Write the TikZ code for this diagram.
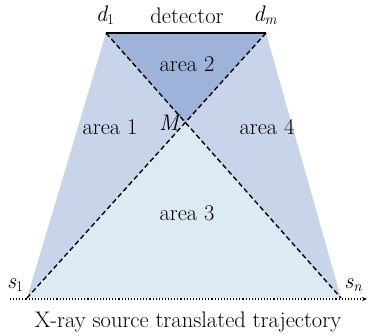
\documentclass[tikz,border=0pt]{standalone}
\usepackage{fontspec}
\usetikzlibrary{arrows.meta,calc,intersections}
\definecolor{outerc}{HTML}{C8D4E9}
\definecolor{topc}{HTML}{9DB3DA}
\definecolor{botc}{HTML}{DCEAF3}
\newcommand{\sbx}[1]{\raisebox{-0.35ex}{\fontsize{15}{15}\selectfont #1}}
\begin{document}
\begin{tikzpicture}[x=1pt,y=-1pt,
  lbl/.style={font=\fontsize{22.5}{24}\selectfont, inner sep=0pt},
  dline/.style={dashed, line width=1.4pt, dash pattern=on 5pt off 3pt},
]
\useasboundingbox (0,0) rectangle (368,336);
\coordinate (d1) at (106,33);
\coordinate (dm) at (266,33);
\coordinate (s1) at (27,298);
\coordinate (sn) at (341,298);
\coordinate (M) at (intersection of d1--sn and dm--s1);
\fill[outerc] (d1) -- (dm) -- (sn) -- (s1) -- cycle;
\fill[topc] (d1) -- (dm) -- (M) -- cycle;
\fill[botc] (s1) -- (sn) -- (M) -- cycle;
\draw[dline] (d1) -- (sn);
\draw[dline] (dm) -- (s1);
\draw[line width=1.8pt] (d1) -- (dm);
\coordinate (tl) at (10,299);
\coordinate (tr) at (367,299);
\draw[dotted, line width=1.1pt, -{Stealth[length=5pt,width=4pt]}] (tl) -- (tr);
\node[lbl] (ld1) at (105,15) {\itshape d\sbx{\upshape 1}};
\node[lbl] (ldet) at (187,16) {detector};
\node[lbl] (ldm) at (265,15) {\itshape d\sbx{m}};
\node[lbl] (a2) at (187,64) {area 2};
\node[lbl] (a1) at (110,127) {area 1};
\node[lbl] (lM) at (169,123) {\itshape M};
\node[lbl] (a4) at (267,127) {area 4};
\node[lbl] (a3) at (187,213) {area 3};
\node[lbl] (ls1) at (15,285) {\itshape s\sbx{\upshape 1}};
\node[lbl] (lsn) at (353,285) {\itshape s\sbx{n}};
\node[lbl] (traj) at (188,322) {X-ray source translated trajectory};
\end{tikzpicture}
\end{document}
